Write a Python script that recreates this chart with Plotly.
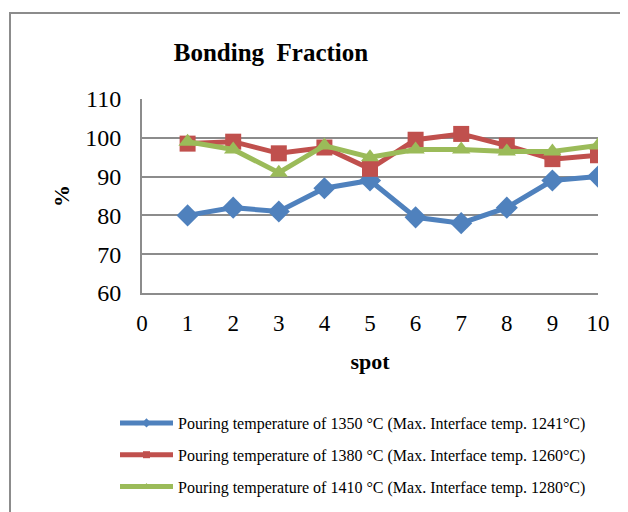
import plotly.graph_objects as go

spots = [1, 2, 3, 4, 5, 6, 7, 8, 9, 10]
pour_1350 = [80, 82, 81, 87, 89, 79.5, 78, 82, 89, 90]
pour_1380 = [98.5, 99, 96, 97.5, 92, 99.5, 101, 98, 94.5, 95.5]
pour_1410 = [99, 97, 91, 98, 95, 97, 97, 96.5, 96.5, 98]
names = [
    "Pouring temperature of 1350 °C (Max. Interface temp. 1241°C)",
    "Pouring temperature of 1380 °C (Max. Interface temp. 1260°C)",
    "Pouring temperature of 1410 °C (Max. Interface temp. 1280°C)",
]
x_ticks = list(range(0, 11))
y_ticks = [60, 70, 80, 90, 100, 110]

SERIF = "Liberation Serif, Times New Roman, serif"
GRID = "#8c8c8c"

fig = go.Figure()
styles = [
    ("#4F81BD", "diamond", 17),
    ("#C0504D", "square", 16),
    ("#9BBB59", "triangle-up", 16),
]
for i, (vals, name, (col, sym, sz)) in enumerate(zip([pour_1350, pour_1380, pour_1410], names, styles)):
    fig.add_trace(go.Scatter(
        x=spots, y=vals, name=name, mode="lines+markers",
        line=dict(color=col, width=5),
        marker=dict(color=col, symbol=sym, size=sz),
        showlegend=False,
    ))
# legend entries (smaller legend symbols, like the original)
for i, (name, (col, sym, sz)) in enumerate(zip(names, styles)):
    fig.add_trace(go.Scatter(
        x=[None], y=[None], name=name, mode="lines+markers",
        line=dict(color=col, width=5),
        marker=dict(color=col, symbol=sym, size=7),
        legendgroup=f"g{i}", showlegend=True,
    ))

OFF = 8  # browser body margin offset
L, R, T, B = 142 - OFF, 598 - OFF, 99 - OFF, 293 - OFF
W, H = 628 - OFF, 512 - OFF
pw, ph = R - L, B - T

def px(x):
    return (x - OFF - L) / pw

def py(y):
    return (B - (y - OFF)) / ph

fig.update_layout(
    width=W, height=H,
    margin=dict(l=L, r=W - R, t=T, b=H - B, autoexpand=False),
    paper_bgcolor="white", plot_bgcolor="white",
    font=dict(family=SERIF, color="black"),
    title=dict(text="<b>Bonding  Fraction</b>", x=px(271), xref="paper", xanchor="center",
               y=1 - (52 - OFF) / H, yanchor="middle", font=dict(size=25, family=SERIF)),
    xaxis=dict(range=[0, 10], tickvals=x_ticks, showgrid=False, showline=True,
               linecolor=GRID, linewidth=2, ticks="outside", ticklen=8,
               tickcolor="rgba(0,0,0,0)", tickfont=dict(size=23, family=SERIF),
               zeroline=False, automargin=False,
               title=dict(text="<b>spot</b>", font=dict(size=22, family=SERIF), standoff=19)),
    yaxis=dict(range=[60, 110], tickvals=y_ticks, showgrid=True, gridcolor=GRID,
               gridwidth=2, showline=True, linecolor=GRID, linewidth=2,
               ticks="outside", ticklen=14, tickcolor="rgba(0,0,0,0)",
               tickfont=dict(size=24, family=SERIF), zeroline=False, automargin=False,
               title=dict(text="<b>%</b>", font=dict(size=22, family=SERIF), standoff=10)),
    legend=dict(x=px(115), xanchor="left", y=py(406), yanchor="top",
                font=dict(size=16, family=SERIF), tracegroupgap=8,
                bgcolor="rgba(0,0,0,0)", itemwidth=53),
    showlegend=True,
    shapes=[dict(type="rect", xref="paper", yref="paper",
                 x0=px(10), x1=px(680), y0=py(580), y1=py(13),
                 line=dict(color="#8c8c8c", width=2), fillcolor="rgba(0,0,0,0)",
                 layer="below")],
)

fig.write_html("out.html")
